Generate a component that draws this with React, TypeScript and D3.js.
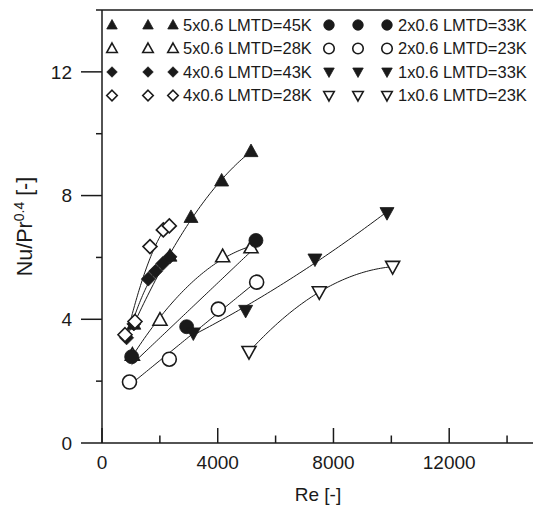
import React from "react";
import * as d3 from "d3";

// ---- Data ----
const tri45Re = [1100, 2350, 3075, 4135, 5150];
const tri45Nu = [3.85, 6.05, 7.3, 8.48, 9.43];

const tri28Re = [1050, 2004, 4170, 5150];
const tri28Nu = [2.85, 3.98, 6.03, 6.32];

const dia43Re = [850, 1100, 1600, 1850, 2100, 2350];
const dia43Nu = [3.4, 3.85, 5.3, 5.55, 5.8, 6.02];

const dia28Re = [795, 1140, 1658, 2119, 2326];
const dia28Nu = [3.5, 3.93, 6.35, 6.89, 7.02];

const cir33Re = [1025, 2926, 5320];
const cir33Nu = [2.79, 3.76, 6.55];

const cir23Re = [950, 2326, 4020, 5345];
const cir23Nu = [1.97, 2.71, 4.33, 5.2];

const dn33Re = [3156, 4965, 7360, 9850];
const dn33Nu = [3.55, 4.28, 5.94, 7.44];

const dn23Re = [5080, 7510, 10045];
const dn23Nu = [2.95, 4.88, 5.7];

const xTicksMajor = [0, 4000, 8000, 12000];
const xTicksMinor = [2000, 6000, 10000, 14000];
const yTicksMajor = [0, 4, 8, 12];
const yTicksMinor = [2, 6, 10, 14];

type Shape = "triUp" | "triDown" | "diamond" | "circle";
interface Series {
  label: string;
  re: number[];
  nu: number[];
  shape: Shape;
  filled: boolean;
  degree: number;
}

const seriesList: Series[] = [
  { label: "5x0.6 LMTD=45K", re: tri45Re, nu: tri45Nu, shape: "triUp", filled: true, degree: 2 },
  { label: "5x0.6 LMTD=28K", re: tri28Re, nu: tri28Nu, shape: "triUp", filled: false, degree: 2 },
  { label: "4x0.6 LMTD=43K", re: dia43Re, nu: dia43Nu, shape: "diamond", filled: true, degree: 2 },
  { label: "4x0.6 LMTD=28K", re: dia28Re, nu: dia28Nu, shape: "diamond", filled: false, degree: 2 },
  { label: "2x0.6 LMTD=33K", re: cir33Re, nu: cir33Nu, shape: "circle", filled: true, degree: 1 },
  { label: "2x0.6 LMTD=23K", re: cir23Re, nu: cir23Nu, shape: "circle", filled: false, degree: 1 },
  { label: "1x0.6 LMTD=33K", re: dn33Re, nu: dn33Nu, shape: "triDown", filled: true, degree: 2 },
  { label: "1x0.6 LMTD=23K", re: dn23Re, nu: dn23Nu, shape: "triDown", filled: false, degree: 2 },
];

const FONT = "'Liberation Sans', Arial, Helvetica, sans-serif";
const INK = "#1a1a1a";

function polyFit(xs: number[], ys: number[], degree: number): number[] {
  const n = degree + 1;
  const A: number[][] = Array.from({ length: n }, () => new Array(n + 1).fill(0));
  xs.forEach((xv, k) => {
    const x = xv / 1000;
    for (let i = 0; i < n; i++) {
      for (let j = 0; j < n; j++) A[i][j] += Math.pow(x, i + j);
      A[i][n] += Math.pow(x, i) * ys[k];
    }
  });
  for (let c = 0; c < n; c++) {
    let p = c;
    for (let r = c + 1; r < n; r++) if (Math.abs(A[r][c]) > Math.abs(A[p][c])) p = r;
    [A[c], A[p]] = [A[p], A[c]];
    for (let r = 0; r < n; r++) {
      if (r === c) continue;
      const f = A[r][c] / A[c][c];
      for (let k = c; k <= n; k++) A[r][k] -= f * A[c][k];
    }
  }
  return A.map((row, i) => row[n] / row[i]);
}

function shapePath(shape: Shape, s: number): string {
  const h = s / 2;
  switch (shape) {
    case "triUp": {
      const th = s * 0.9;
      return `M0,${-th * 0.58}L${h},${th * 0.42}L${-h},${th * 0.42}Z`;
    }
    case "triDown": {
      const th = s * 0.9;
      return `M0,${th * 0.58}L${h},${-th * 0.42}L${-h},${-th * 0.42}Z`;
    }
    case "diamond":
      return `M0,${-h}L${h},0L0,${h}L${-h},0Z`;
    default:
      return `M${h},0A${h},${h} 0 1,1 ${-h},0A${h},${h} 0 1,1 ${h},0Z`;
  }
}

function Marker({ shape, filled, x, y, size }: { shape: Shape; filled: boolean; x: number; y: number; size: number }) {
  return (
    <path
      d={shapePath(shape, size)}
      transform={`translate(${x},${y})`}
      fill={filled ? INK : "#fff"}
      stroke={INK}
      strokeWidth={filled ? 0.8 : 1.6}
      strokeLinejoin="miter"
    />
  );
}

export default function App() {
  const width = 533;
  const height = 509;
  const x = d3.scaleLinear().domain([0, 15000]).range([102, 536]);
  const y = d3.scaleLinear().domain([0, 14]).range([443, 10]);

  const line = d3
    .line<[number, number]>()
    .x((d) => x(d[0]))
    .y((d) => y(d[1]))
    .curve(d3.curveLinear);

  const fitPaths = seriesList.map((s) => {
    const coef = polyFit(s.re, s.nu, s.degree);
    const lo = d3.min(s.re)!;
    const hi = d3.max(s.re)!;
    const pts: [number, number][] = d3.range(0, 61).map((i) => {
      const xv = lo + ((hi - lo) * i) / 60;
      const t = xv / 1000;
      const yv = coef.reduce((acc, c, k) => acc + c * Math.pow(t, k), 0);
      return [xv, yv];
    });
    return line(pts) || "";
  });

  const legendRowY = (i: number) => 25 + i * 23.5;
  const legendCols = [
    { marks: [112, 148, 173], text: 183 },
    { marks: [329, 358, 387], text: 398 },
  ];

  return (
    <svg width={width} height={height} style={{ display: "block", position: "absolute", left: 0, top: 0, background: "#fff" }} fontFamily={FONT}>
      <rect x={0} y={0} width={width} height={height} fill="#fff" />
      {/* fit lines */}
      {fitPaths.map((d, i) => (
        <path key={"f" + i} d={d} fill="none" stroke={INK} strokeWidth={1} />
      ))}
      {/* markers */}
      {seriesList.map((s, si) =>
        s.re.map((r, i) => (
          <Marker key={`m${si}-${i}`} shape={s.shape} filled={s.filled} x={x(r)} y={y(s.nu[i])} size={14} />
        ))
      )}
      {/* axes frame */}
      <line x1={x(0)} x2={x(0)} y1={y(14)} y2={y(0)} stroke={INK} strokeWidth={1.5} />
      <line x1={x(0)} x2={width} y1={y(14)} y2={y(14)} stroke={INK} strokeWidth={1.5} />
      <line x1={x(0)} x2={width} y1={y(0)} y2={y(0)} stroke={INK} strokeWidth={1.5} />
      {/* y ticks */}
      {yTicksMajor.map((t) => (
        <g key={"ym" + t}>
          <line x1={x(0) - 21} x2={x(0)} y1={y(t)} y2={y(t)} stroke={INK} strokeWidth={1.5} />
          <text x={x(0) - 30} y={y(t)} dy="0.36em" textAnchor="end" fontSize={19} fill={INK}>
            {t}
          </text>
        </g>
      ))}
      {yTicksMinor.map((t) => (
        <line key={"yn" + t} x1={x(0) - 6} x2={x(0)} y1={y(t)} y2={y(t)} stroke={INK} strokeWidth={1.5} />
      ))}
      {/* x ticks */}
      {xTicksMajor.map((t) => (
        <g key={"xm" + t}>
          <line x1={x(t)} x2={x(t)} y1={y(0)} y2={y(0) - 15} stroke={INK} strokeWidth={1.5} />
          <text x={x(t)} y={469} textAnchor="middle" fontSize={19} fill={INK}>
            {t}
          </text>
        </g>
      ))}
      {xTicksMinor.map((t) => (
        <line key={"xn" + t} x1={x(t)} x2={x(t)} y1={y(0)} y2={y(0) - 7.5} stroke={INK} strokeWidth={1.5} />
      ))}
      {/* axis titles */}
      <text x={318} y={501} textAnchor="middle" fontSize={19} fill={INK}>
        Re [-]
      </text>
      <text transform={`translate(32,${(y(0) + y(14)) / 2}) rotate(-90)`} textAnchor="middle" fontSize={21.5} fill={INK}>
        Nu/Pr<tspan dy={-8} fontSize={14}>0.4</tspan>
        <tspan dy={8}> [-]</tspan>
      </text>
      {/* legend */}
      {seriesList.map((s, i) => {
        const col = legendCols[Math.floor(i / 4)];
        const ry = legendRowY(i % 4);
        return (
          <g key={"lg" + i}>
            {col.marks.map((mx, k) => (
              <Marker key={k} shape={s.shape} filled={s.filled} x={mx} y={ry} size={10.5} />
            ))}
            <text x={col.text} y={ry} dy="0.36em" fontSize={16.5} fill={INK}>
              {s.label}
            </text>
          </g>
        );
      })}
    </svg>
  );
}
